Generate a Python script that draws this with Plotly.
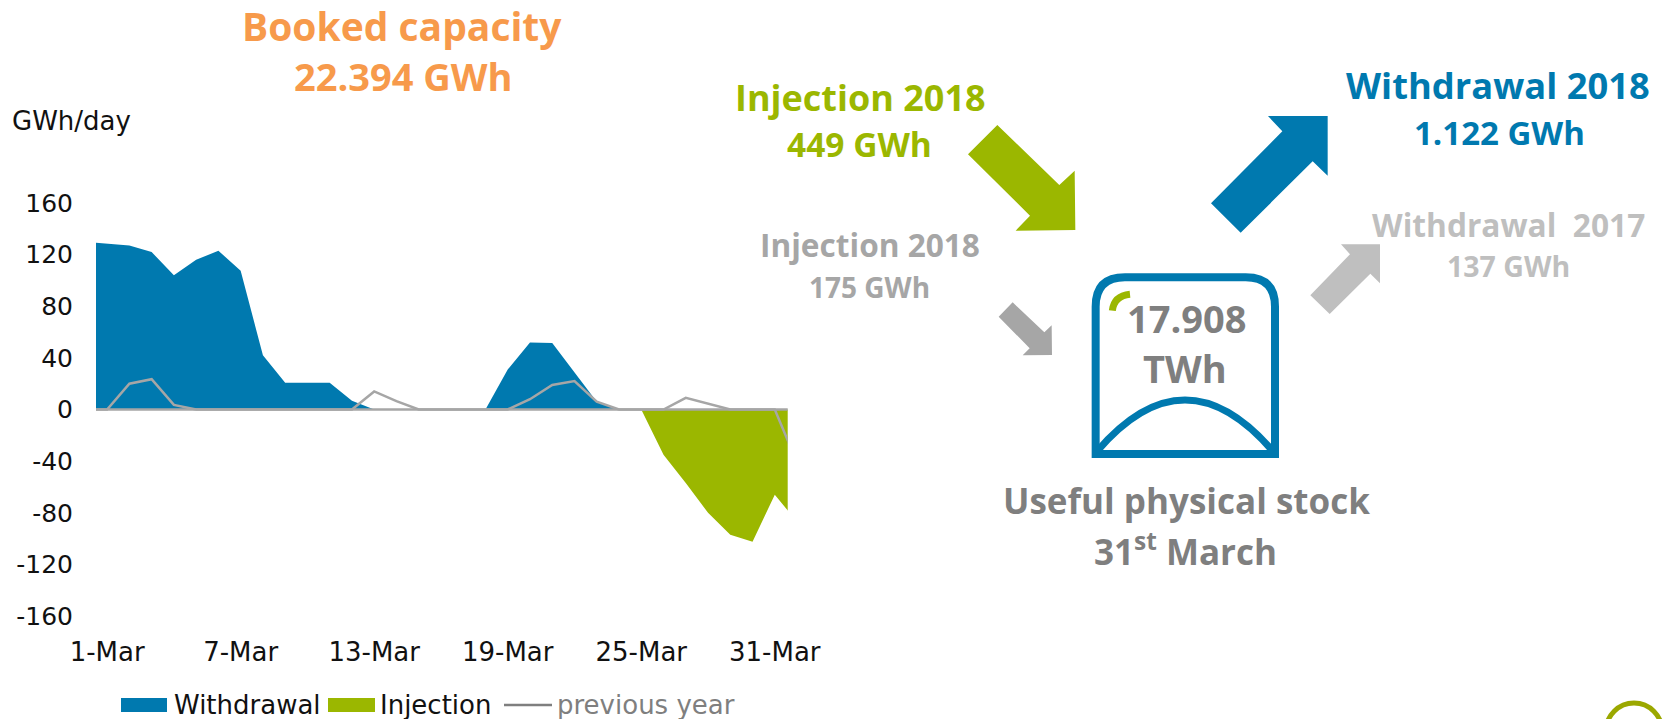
import plotly.graph_objects as go

W, H = 1666, 719

# Days 0 and 32 lie just outside the axis range and are clipped, as in the source chart
days = list(range(0, 33))
tick_days = [1, 7, 13, 19, 25, 31]
tick_labels = ["1-Mar", "7-Mar", "13-Mar", "19-Mar", "25-Mar", "31-Mar"]
y_ticks = [160, 120, 80, 40, 0, -40, -80, -120, -160]
y_labels = ["160", "120", "80", "40", "0", "-40", "-80", "-120", "-160"]

withdrawal = [130, 128.5, 127, 122, 104, 116, 123, 107.5, 42, 20.7, 20.7, 20.7, 6.7, 0, 0,
              0, 0, 0, 0, 31, 52, 51.5, 29, 6, 0, 0, 0, 0, 0, 0, 0, 0, 0]
injection = [0, 0, 0, 0, 0, 0, 0, 0, 0, 0, 0, 0, 0, 0, 0,
             0, 0, 0, 0, 0, 0, 0, 0, 0, 0, 0, -35, -57, -80, -97, -102.5, -66, -87]
previous_year = [0, 0, 20, 23.5, 3.6, 0, 0, 0, 0, 0, 0, 0, 0, 14, 6.5,
                 0, 0, 0, 0, 0, 8, 19, 22, 6, 0, 0, 0, 9, 4.5, 0, 0, 0, -41]

BLUE, GREEN, ORANGE = "#0079AF", "#9BB700", "#F79A4B"
GREY, MID, LIGHT = "#7F7F7F", "#A6A6A6", "#BFBFBF"
TXT = "Open Sans"
CHART = "DejaVu Sans"

fig = go.Figure()
fig.add_trace(go.Scatter(x=days, y=withdrawal, name="Withdrawal", mode="lines", fill="tozeroy",
                         fillcolor=BLUE, line=dict(width=0, color=BLUE)))
fig.add_trace(go.Scatter(x=days, y=injection, name="Injection", mode="lines", fill="tozeroy",
                         fillcolor=GREEN, line=dict(width=0, color=GREEN)))
fig.add_trace(go.Scatter(x=days, y=previous_year, name="previous year", mode="lines",
                         line=dict(width=2.5, color=MID)))


def px(x):
    return x / W


def py(y):
    return 1 - y / H


def text(t, x, y, size, color, bold=True, font=TXT, anchor="center"):
    fig.add_annotation(text=f"<b>{t}</b>" if bold else t, x=px(x), y=py(y), xref="paper", yref="paper",
                       showarrow=False, xanchor=anchor, yanchor="middle",
                       font=dict(family=font, size=size, color=color))


text("Booked capacity", 402, 26, 39, ORANGE)
text("22.394 GWh", 403, 76, 38, ORANGE)
text("GWh/day", 10, 121, 26, "#111111", bold=False, font=CHART, anchor="left")
text("Injection 2018", 860, 97, 36, GREEN)
text("449 GWh", 859, 144, 33.5, GREEN)
text("Injection 2018", 870, 244, 31.6, MID)
text("175 GWh", 870, 287, 28, MID)
text("Withdrawal 2018", 1498, 85, 36.3, BLUE)
text("1.122 GWh", 1499, 132, 33, BLUE)
text("Withdrawal  2017", 1508, 224, 31.7, LIGHT)
text("137 GWh", 1508, 266, 28.5, LIGHT)
text("17.908", 1186, 318, 38, GREY)
text("TWh", 1185, 368, 38, GREY)
text("Useful physical stock", 1186, 500, 35, GREY)
text("31<sup>st</sup> March", 1185, 549, 35, GREY)

# Legend, drawn by hand because the library's area swatches are only a thin strip
text("Withdrawal", 172, 705, 26, "#111111", bold=False, font=CHART, anchor="left")
text("Injection", 378, 705, 26, "#111111", bold=False, font=CHART, anchor="left")
text("previous year", 555, 705, 26, GREY, bold=False, font=CHART, anchor="left")
for x0, x1, col in [(121, 167, BLUE), (328, 375, GREEN)]:
    fig.add_shape(type="rect", xref="paper", yref="paper", x0=px(x0), x1=px(x1), y0=py(698), y1=py(712),
                  fillcolor=col, line_width=0)
fig.add_shape(type="line", xref="paper", yref="paper", x0=px(504), x1=px(552), y0=py(705), y1=py(705),
              line=dict(color=GREY, width=2.5))


def poly(points, ox, oy, color):
    path = "M " + " L ".join(f"{px(ox + a / 3):.5f},{py(oy + b / 3):.5f}" for a, b in points) + " Z"
    fig.add_shape(type="path", path=path, xref="paper", yref="paper", fillcolor=color, line_width=0)


poly([(142, 75), (328, 255), (374, 212), (376, 390), (197, 392), (240, 347), (54, 163)], 950, 100, GREEN)
poly([(783, 310), (997, 94), (954, 48), (1133, 48), (1133, 227), (1088, 184), (872, 398)], 950, 100, BLUE)
poly([(1081, 586), (1200, 463), (1173, 433), (1290, 433), (1290, 550), (1261, 521), (1139, 642)], 950, 100, LIGHT)
poly([(188, 607), (283, 697), (305, 676), (306, 765), (218, 766), (239, 745), (146, 650)], 950, 100, MID)


def icon_pt(a, b):
    return f"{px(1050 + a / 3):.5f},{py(250 + b / 3):.5f}"


def curve(cmds, color, width):
    path = " ".join(c + " " + " ".join(icon_pt(*p) for p in pts) for c, pts in cmds)
    fig.add_shape(type="path", path=path, xref="paper", yref="paper",
                  line=dict(color=color, width=width))


curve([("M", [(137, 612)]), ("L", [(137, 170)]), ("Q", [(137, 82), (225, 82)]), ("L", [(587, 82)]),
       ("Q", [(675, 82), (675, 170)]), ("L", [(675, 612)]), ("Z", [])], BLUE, 8)
curve([("M", [(140, 605)]), ("Q", [(405, 295), (670, 605)])], BLUE, 7)
curve([("M", [(187, 182)]), ("Q", [(192, 138), (240, 133)])], GREEN, 7)

fig.add_shape(type="circle", xref="paper", yref="paper", x0=px(1606), x1=px(1662), y0=py(703), y1=py(759),
              line=dict(color="#9BA800", width=5))
fig.add_shape(type="line", xref="x domain", yref="y", x0=0, x1=1, y0=0, y1=0, layer="above",
              line=dict(color=MID, width=2.5))

fig.update_layout(
    width=W, height=H, autosize=False,
    margin=dict(l=0, r=0, t=0, b=0, pad=0),
    paper_bgcolor="white", plot_bgcolor="white",
    showlegend=False,
    xaxis=dict(domain=[px(96), px(787.7)], range=[0.5, 31.58], tickmode="array", automargin=False,
               tickvals=tick_days, ticktext=tick_labels, showgrid=False, zeroline=False,
               showline=False, ticks="", ticklabelstandoff=18,
               tickfont=dict(family=CHART, size=26, color="#111111")),
    yaxis=dict(domain=[py(616), py(203)], range=[-160, 160], tickmode="array", automargin=False,
               tickvals=y_ticks, ticktext=y_labels,
               showgrid=False, zeroline=False, showline=False, ticks="", ticklabelstandoff=22,
               tickfont=dict(family=CHART, size=25, color="#111111")),
)

fig.write_html("out.html", config={"displayModeBar": False},
               post_script="document.body.style.margin='0';document.body.style.overflow='hidden';")
